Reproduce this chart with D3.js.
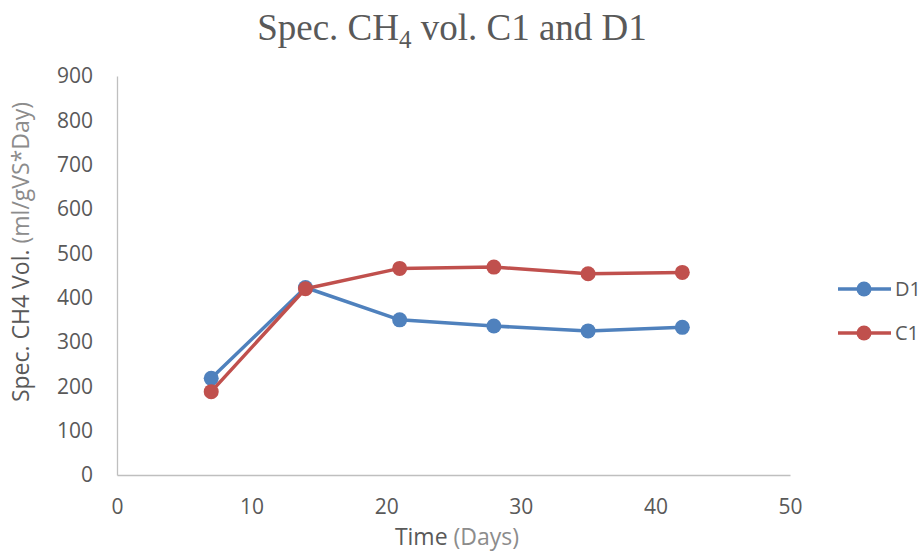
<!DOCTYPE html>
<html><head><meta charset="utf-8">
<script src="https://cdn.jsdelivr.net/npm/d3@7"></script>
<style>body{margin:0;background:#fff}</style>
</head><body>
<svg id="c" width="923" height="552"></svg>
<script>
const days = [7, 14, 21, 28, 35, 42];
const d1 = [218, 423, 350, 336, 325, 333];
const c1 = [188, 420, 466, 469, 454, 457];
const xTicks = [0, 10, 20, 30, 40, 50];
const yTicks = [0, 100, 200, 300, 400, 500, 600, 700, 800, 900];
const seriesNames = ["D1", "C1"];
const seriesColors = ["#4F81BD", "#C0504D"];

const svg = d3.select("#c");
const x = d3.scaleLinear().domain([0, 50]).range([117, 790]);
const y = d3.scaleLinear().domain([0, 900]).range([475, 76]);
const font = "Open Sans, sans-serif";

// axes
const xa = svg.append("g").attr("transform", "translate(0,475)")
  .call(d3.axisBottom(x).tickValues(xTicks).tickSize(0).tickPadding(24));
const ya = svg.append("g").attr("transform", "translate(117,0)")
  .call(d3.axisLeft(y).tickValues(yTicks).tickSize(0).tickPadding(24));
[xa, ya].forEach(a => {
  a.select(".domain").attr("stroke", "#bfbfbf").attr("stroke-width", 1.3);
  a.selectAll("text").attr("fill", "#595959").style("font-family", font).style("font-size", "21px");
});

// title
const t = svg.append("text").attr("x", 452).attr("y", 40).attr("text-anchor", "middle")
  .attr("fill", "#595959").style("font-family", "Liberation Serif, Times New Roman, serif").style("font-size", "37px");
t.append("tspan").text("Spec. CH");
t.append("tspan").text("4").attr("dy", 8).style("font-size", "25px");
t.append("tspan").text(" vol. C1 and D1").attr("dy", -8);

// x title
const xt = svg.append("text").attr("x", 457).attr("y", 545).attr("text-anchor", "middle")
  .style("font-family", font).style("font-size", "23px");
xt.append("tspan").text("Time ").attr("fill", "#595959");
xt.append("tspan").text("(Days)").attr("fill", "#8c8c8c");

// y title
const yt = svg.append("text").attr("transform", "translate(29,252) rotate(-90)").attr("text-anchor", "middle")
  .style("font-family", font).style("font-size", "23px");
yt.append("tspan").text("Spec. CH4 Vol. ").attr("fill", "#595959");
yt.append("tspan").text("(ml/gVS*Day)").attr("fill", "#8c8c8c");

const line = d3.line().x(d => x(d[0])).y(d => y(d[1]));
[d1, c1].forEach((vals, i) => {
  const pts = days.map((d, j) => [d, vals[j]]);
  const g = svg.append("g");
  g.append("path").attr("d", line(pts)).attr("fill", "none")
    .attr("stroke", seriesColors[i]).attr("stroke-width", 3.5).attr("stroke-linejoin", "round");
  g.selectAll("circle").data(pts).join("circle")
    .attr("cx", d => x(d[0])).attr("cy", d => y(d[1])).attr("r", 7.5).attr("fill", seriesColors[i]);
});

// legend
seriesNames.forEach((n, i) => {
  const ly = 289 + i * 44;
  const g = svg.append("g");
  g.append("line").attr("x1", 838).attr("x2", 891).attr("y1", ly).attr("y2", ly)
    .attr("stroke", seriesColors[i]).attr("stroke-width", 3.5);
  g.append("circle").attr("cx", 864).attr("cy", ly).attr("r", 7.5).attr("fill", seriesColors[i]);
  g.append("text").attr("x", 895).attr("y", ly + 7).text(n).attr("fill", "#595959")
    .style("font-family", font).style("font-size", "20px");
});
</script>
</body></html>
